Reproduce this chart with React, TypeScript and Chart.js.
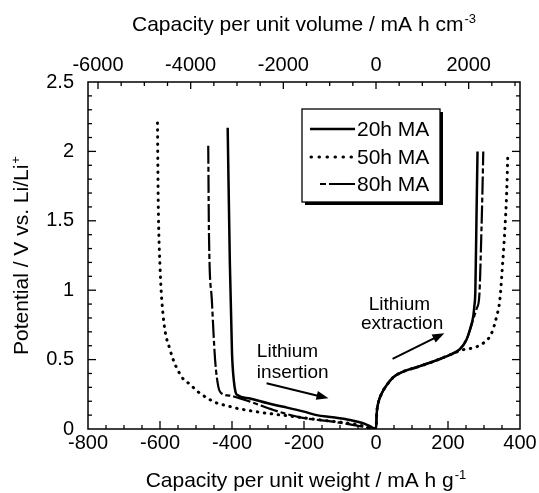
import React, { useEffect, useRef } from "react";
import { Chart, registerables } from "chart.js";

Chart.register(...registerables);

// ---------- data ----------
const SERIES = ["20h MA", "50h MA", "80h MA"];

const cap20 = [-412, -406, -400, -395, -390, -385, -350, -300, -257, -200, -165, -120, -72, -40, -20, 0, 2, 6, 16, 30, 48, 76, 113, 159, 205, 233, 251, 262, 270, 273, 276, 279, 282];
const pot20 = [2.17, 1.2, 0.55, 0.35, 0.265, 0.245, 0.22, 0.185, 0.16, 0.125, 0.1, 0.085, 0.065, 0.045, 0.025, 0, 0.113, 0.185, 0.257, 0.317, 0.373, 0.414, 0.445, 0.486, 0.534, 0.575, 0.642, 0.726, 0.81, 0.88, 1.0, 1.5, 2.0];

const cap50 = [-607, -605, -600, -591, -572, -540, -516, -494, -470, -445, -410, -388, -321, -245, -137, -54, 0, 2, 6, 16, 30, 48, 76, 113, 159, 205, 240, 270, 298, 321, 335, 344, 352, 358, 363, 366];
const pot50 = [2.205, 1.65, 1.17, 0.81, 0.57, 0.377, 0.32, 0.267, 0.225, 0.19, 0.165, 0.15, 0.12, 0.095, 0.06, 0.033, 0, 0.113, 0.185, 0.257, 0.317, 0.373, 0.414, 0.445, 0.486, 0.534, 0.57, 0.585, 0.618, 0.69, 0.81, 0.93, 1.2, 1.44, 1.7, 1.965];

const cap80 = [-466, -464, -456, -447, -438, -429, -405, -350, -285, -211, -119, -36, 0, 2, 6, 16, 30, 48, 76, 113, 159, 205, 233, 251, 262, 270, 280, 287, 293, 296, 298];
const pot80 = [2.04, 1.41, 0.93, 0.5, 0.305, 0.257, 0.24, 0.197, 0.137, 0.084, 0.053, 0.017, 0, 0.113, 0.185, 0.257, 0.317, 0.373, 0.414, 0.445, 0.486, 0.534, 0.575, 0.642, 0.72, 0.79, 0.87, 0.96, 1.44, 1.75, 2.0];

const WEIGHT_TICKS = [-800, -600, -400, -200, 0, 200, 400];
const VOLUME_TICKS = [-6000, -4000, -2000, 0, 2000];
const POTENTIAL_TICKS = [0, 0.5, 1, 1.5, 2, 2.5];
const DENSITY = 7.77; // mA h cm-3 per mA h g-1
const X_MIN = -800;
const X_MAX = 400;
const Y_MIN = 0;
const Y_MAX = 2.5;

const INSERTION_LABEL = ["Lithium", "insertion"];
const EXTRACTION_LABEL = ["Lithium", "extraction"];

const FONT = "'Liberation Sans', Arial, Helvetica, sans-serif";

function toPts(xs: number[], ys: number[]) {
  return xs.map((x, i) => ({ x, y: ys[i] }));
}

function supText(ctx: CanvasRenderingContext2D, main: string, sup: string, cx: number, y: number, size: number, supSize: number, rise: number) {
  ctx.font = `${size}px ${FONT}`;
  const w1 = ctx.measureText(main).width;
  ctx.font = `${supSize}px ${FONT}`;
  const w2 = ctx.measureText(sup).width;
  const sx = cx - (w1 + w2 + 1) / 2;
  ctx.textAlign = "left";
  ctx.textBaseline = "alphabetic";
  ctx.font = `${size}px ${FONT}`;
  ctx.fillText(main, sx, y);
  ctx.font = `${supSize}px ${FONT}`;
  ctx.fillText(sup, sx + w1 + 1, y - rise);
}

function arrow(ctx: CanvasRenderingContext2D, x1: number, y1: number, x2: number, y2: number) {
  const ang = Math.atan2(y2 - y1, x2 - x1);
  const hl = 12, hw = 4.5;
  const bx = x2 - hl * Math.cos(ang), by = y2 - hl * Math.sin(ang);
  ctx.beginPath();
  ctx.moveTo(x1, y1);
  ctx.lineTo(bx + 2 * Math.cos(ang), by + 2 * Math.sin(ang));
  ctx.lineWidth = 2;
  ctx.stroke();
  ctx.beginPath();
  ctx.moveTo(x2, y2);
  ctx.lineTo(bx + hw * Math.sin(ang), by - hw * Math.cos(ang));
  ctx.lineTo(bx - hw * Math.sin(ang), by + hw * Math.cos(ang));
  ctx.closePath();
  ctx.fill();
}

const decorPlugin = {
  id: "decor",
  afterDraw(chart: any) {
    const ctx: CanvasRenderingContext2D = chart.ctx;
    const { left, right, top, bottom } = chart.chartArea;
    const xs = chart.scales.x;
    const x2 = chart.scales.x2;
    const ys = chart.scales.y;
    ctx.save();
    ctx.strokeStyle = "#000";
    ctx.fillStyle = "#000";
    ctx.lineWidth = 1.3;
    ctx.setLineDash([]);
    const seg = (a: number, b: number, c: number, d: number) => {
      ctx.beginPath();
      ctx.moveTo(a, b);
      ctx.lineTo(c, d);
      ctx.stroke();
    };
    // bottom ticks
    for (let v = X_MIN + 50; v < X_MAX; v += 50) {
      const p = xs.getPixelForValue(v);
      seg(p, bottom, p, bottom - (v % 200 === 0 ? 8 : 4));
    }
    // top ticks
    for (let v = -6000; v <= 3000; v += 500) {
      const p = x2.getPixelForValue(v);
      if (p <= left + 1 || p >= right - 1) continue;
      seg(p, top, p, top + (v % 2000 === 0 ? 7 : 4));
    }
    // left/right ticks
    for (let i = 1; i < 25; i++) {
      const v = i / 10;
      const p = ys.getPixelForValue(v);
      const len = i % 5 === 0 ? 8 : 4;
      seg(left, p, left + len, p);
      seg(right, p, right - len, p);
    }
    ctx.lineWidth = 1.5;
    ctx.strokeRect(left, top, right - left, bottom - top);

    // axis titles
    const cx = (left + right) / 2;
    supText(ctx, "Capacity per unit volume / mA h cm", "-3", cx, 31, 21, 13, 8);
    supText(ctx, "Capacity per unit weight / mA h g", "-1", cx + 2, 487, 21, 13, 8);
    ctx.save();
    ctx.translate(28, (top + bottom) / 2);
    ctx.rotate(-Math.PI / 2);
    supText(ctx, "Potential / V vs. Li/Li", "+", 0, 0, 21, 13, 8);
    ctx.restore();

    // annotations
    ctx.font = `19px ${FONT}`;
    ctx.textAlign = "left";
    ctx.textBaseline = "alphabetic";
    ctx.fillText(INSERTION_LABEL[0], xs.getPixelForValue(-331), ys.getPixelForValue(0.52));
    ctx.fillText(INSERTION_LABEL[1], xs.getPixelForValue(-331), ys.getPixelForValue(0.366));
    ctx.fillText(EXTRACTION_LABEL[0], xs.getPixelForValue(-20), ys.getPixelForValue(0.859));
    ctx.fillText(EXTRACTION_LABEL[1], xs.getPixelForValue(-42), ys.getPixelForValue(0.72));
    arrow(ctx, xs.getPixelForValue(-304), ys.getPixelForValue(0.33), xs.getPixelForValue(-132), ys.getPixelForValue(0.221));
    arrow(ctx, xs.getPixelForValue(46), ys.getPixelForValue(0.505), xs.getPixelForValue(190), ys.getPixelForValue(0.69));

    // legend
    const bx = left + 214, by = top + 27, bw = 138, bh = 93;
    ctx.fillRect(bx + 3, by + 3, bw, bh);
    ctx.fillStyle = "#fff";
    ctx.fillRect(bx, by, bw, bh);
    ctx.fillStyle = "#000";
    ctx.lineWidth = 1.3;
    ctx.strokeRect(bx, by, bw, bh);
    const rows = [by + 20, by + 48, by + 75];
    const sx0 = bx + 8, sx1 = bx + 53;
    ctx.font = `21px ${FONT}`;
    ctx.textBaseline = "middle";
    SERIES.forEach((name, i) => {
      ctx.save();
      ctx.beginPath();
      if (i === 0) {
        ctx.lineWidth = 2.5;
        ctx.setLineDash([]);
        ctx.moveTo(sx0, rows[i]);
      } else if (i === 1) {
        ctx.lineWidth = 3;
        ctx.lineCap = "round";
        ctx.setLineDash([0.5, 7.5]);
        ctx.moveTo(sx0 + 1, rows[i]);
      } else {
        ctx.lineWidth = 2.2;
        ctx.setLineDash([6, 3, 30, 3]);
        ctx.moveTo(sx0 + 10, rows[i]);
      }
      ctx.lineTo(sx1, rows[i]);
      ctx.stroke();
      ctx.restore();
      ctx.fillText(name, bx + 55, rows[i] + 1);
    });
    ctx.restore();
  },
};

export default function App() {
  const ref = useRef<HTMLCanvasElement>(null);
  useEffect(() => {
    const tickFont = { family: FONT, size: 20 };
    const chart = new Chart(ref.current as HTMLCanvasElement, {
      type: "scatter",
      data: {
        datasets: [
          {
            label: SERIES[0],
            data: toPts(cap20, pot20),
            showLine: true,
            borderColor: "#000",
            borderWidth: 2.5,
            pointRadius: 0,
            cubicInterpolationMode: "monotone",
            xAxisID: "x",
            yAxisID: "y",
          },
          {
            label: SERIES[1],
            data: toPts(cap50, pot50),
            showLine: true,
            borderColor: "#000",
            borderWidth: 3,
            borderDash: [0.5, 6.5],
            borderCapStyle: "round",
            pointRadius: 0,
            cubicInterpolationMode: "monotone",
            xAxisID: "x",
            yAxisID: "y",
          },
          {
            label: SERIES[2],
            data: toPts(cap80, pot80),
            showLine: true,
            borderColor: "#000",
            borderWidth: 2.2,
            borderDash: [18, 3, 5, 3],
            pointRadius: 0,
            cubicInterpolationMode: "monotone",
            xAxisID: "x",
            yAxisID: "y",
          },
        ],
      } as any,
      options: {
        animation: false,
        responsive: false,
        devicePixelRatio: 1,
        layout: { padding: 0 },
        plugins: { legend: { display: false }, tooltip: { enabled: false } },
        scales: {
          x: {
            type: "linear",
            position: "bottom",
            min: X_MIN,
            max: X_MAX,
            afterBuildTicks: (s: any) => {
              s.ticks = WEIGHT_TICKS.map((v) => ({ value: v }));
            },
            afterFit: (s: any) => {
              s.height = 64;
            },
            ticks: { font: tickFont, color: "#000", padding: 2, autoSkip: false, maxRotation: 0, callback: (v: any) => String(v) },
            grid: { display: false, drawTicks: false },
            border: { display: false },
          },
          x2: {
            type: "linear",
            position: "top",
            min: X_MIN * DENSITY,
            max: X_MAX * DENSITY,
            afterBuildTicks: (s: any) => {
              s.ticks = VOLUME_TICKS.map((v) => ({ value: v }));
            },
            afterFit: (s: any) => {
              s.height = 82;
            },
            ticks: { font: tickFont, color: "#000", padding: 5, autoSkip: false, maxRotation: 0, callback: (v: any) => String(v) },
            grid: { display: false, drawTicks: false },
            border: { display: false },
          },
          y: {
            type: "linear",
            position: "left",
            min: Y_MIN,
            max: Y_MAX,
            afterBuildTicks: (s: any) => {
              s.ticks = POTENTIAL_TICKS.map((v) => ({ value: v }));
            },
            afterFit: (s: any) => {
              s.width = 88;
            },
            ticks: { font: tickFont, color: "#000", padding: 14, autoSkip: false, callback: (v: any) => String(v) },
            grid: { display: false, drawTicks: false },
            border: { display: false },
          },
          yR: {
            type: "linear",
            position: "right",
            min: Y_MIN,
            max: Y_MAX,
            afterFit: (s: any) => {
              s.width = 19;
            },
            ticks: { display: false },
            grid: { display: false, drawTicks: false },
            border: { display: false },
          },
        },
      } as any,
      plugins: [decorPlugin],
    });
    return () => chart.destroy();
  }, []);
  return (
    <div style={{ position: "absolute", left: 0, top: 0, width: 539, height: 493, background: "#fff" }}>
      <canvas ref={ref} width={539} height={493} style={{ display: "block", width: 539, height: 493 }} />
    </div>
  );
}
